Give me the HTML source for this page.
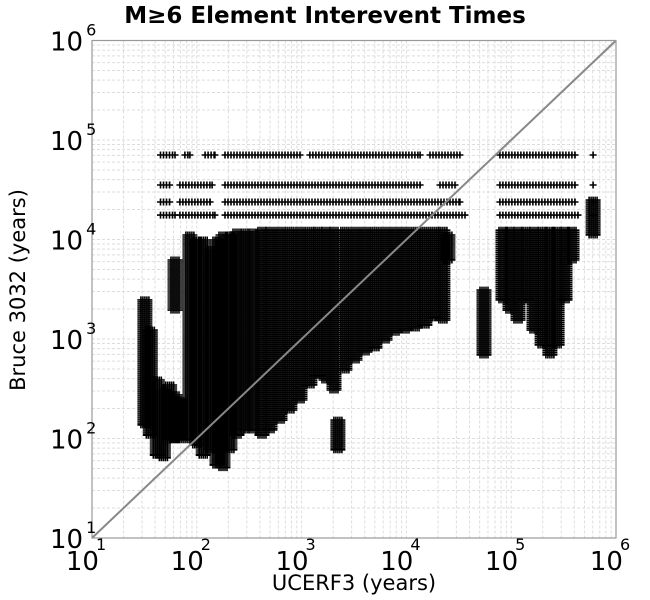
<!DOCTYPE html>
<html><head><meta charset="utf-8"><style>
body{margin:0;background:#fff;}
svg{display:block;font-family:"DejaVu Sans","Liberation Sans",sans-serif;}
</style></head><body>
<svg id="chart" width="650" height="600">
<text x="325" y="23" text-anchor="middle" font-size="23" font-weight="bold">M≥6 Element Interevent Times</text>
<g id="grid"></g>
<g id="marks"></g>
<rect x="92" y="40.5" width="524" height="497.5" fill="none" stroke="#999" stroke-width="1.2"/>
<g id="ticks"></g>
<text x="354" y="590" text-anchor="middle" font-size="21">UCERF3 (years)</text>
<text transform="translate(25,290) rotate(-90)" text-anchor="middle" font-size="21">Bruce 3032 (years)</text>
</svg>
<script>
const decades = [1,2,3,4,5,6];
const colX = [32,36,42,48,55,62,62,69,86,100,115,134,156,178,207,242,289,344,419,499,622,774,966,1200,1430,1710,2040,2220,2590,3230,4030,5010,6250,7780,9700,12100,15000,18700,22300,24900,55000,83500,97500,116000,138000,165000,197000,234000,274000,326000,380000,604000];
const colHigh = [2470,1230,387,307,345,6220,274,244,11100,9890,9890,7840,9890,11100,11100,11900,11900,11900,12400,12400,12400,12400,12400,12400,12400,12400,12400,153,12400,12400,12400,12400,12400,12400,12400,12400,12400,12400,12400,11100,3100,12400,12400,12400,12400,12400,12400,12400,12400,12400,12400,24900];
const colLow = [137,108,68,64,97,1950,97,97,97,86,68,77,54,51,77,108,122,122,108,122,153,193,244,345,434,387,307,77,488,615,740,813,977,1170,1230,1290,1380,1630,1550,6220,690,2470,1950,1550,2470,1230,871,690,871,2470,6220,11100];
const rowY = [70600,35300,23800,17600];
const segRow = [0,0,0,0,0,0,0,0, 1,1,1,1,1,1, 2,2,2,2,2, 3,3,3,3,3];
const segLo = [45,77,120,186,1200,16800,78000,604000, 45,69,186,20900,78000,604000, 45,69,186,78000,604000, 45,69,186,78000,604000];
const segHi = [62,86,149,966,13500,32400,406000,604000, 55,140,13500,29100,406000,604000, 55,134,32400,406000,604000, 62,149,36200,434000,604000];

const L=92,R=616,T=40.5,B=538;
function sx(v){return L+(Math.log10(v)-1)/5*(R-L);}
function sy(v){return B-(Math.log10(v)-1)/5*(B-T);}
const NS="http://www.w3.org/2000/svg";
const grid=document.getElementById('grid'), marks=document.getElementById('marks'), ticks=document.getElementById('ticks');
let gd="";
for(let d=1;d<6;d++){for(let m=1;m<10;m++){const v=m*Math.pow(10,d);
 gd+=`M${sx(v)} ${T}V${B}M${L} ${sy(v)}H${R}`;}}
const gp=document.createElementNS(NS,'path');
gp.setAttribute('d',gd);gp.setAttribute('stroke','#ddd');gp.setAttribute('stroke-width','1');gp.setAttribute('stroke-dasharray','3,2');gp.setAttribute('fill','none');


grid.appendChild(gp);

function plus(x,y){return `M${(x-3.5).toFixed(1)} ${y.toFixed(1)}h7M${x.toFixed(1)} ${(y-3.5).toFixed(1)}v7`;}
for(let i=0;i<colX.length;i++){
 const cx=sx(colX[i]), y0=sy(colHigh[i]), y1=sy(colLow[i]);
 let d="";
 for(let dx=-4;dx<=4;dx+=2){for(let y=y0;y<=y1+0.1;y+=2){d+=plus(cx+dx,y);} d+=plus(cx+dx,y1);}
 const p=document.createElementNS(NS,'path');
 p.setAttribute('d',d);p.setAttribute('stroke','#000');p.setAttribute('stroke-width','1.6');p.setAttribute('fill','none');
 
 
 marks.appendChild(p);
}
for(let i=0;i<segRow.length;i++){
 const y=sy(rowY[segRow[i]]), x0=sx(segLo[i]), x1=sx(segHi[i]);
 let d="";
 for(let x=x0;x<=x1+0.1;x+=3){d+=plus(x,y);} d+=plus(x1,y);
 const p=document.createElementNS(NS,'path');
 p.setAttribute('d',d);p.setAttribute('stroke','#000');p.setAttribute('stroke-width','1.6');p.setAttribute('fill','none');
 
 
 marks.appendChild(p);
}
const diag=document.createElementNS(NS,'line');
diag.setAttribute('x1',sx(10));diag.setAttribute('y1',sy(10));diag.setAttribute('x2',sx(1e6));diag.setAttribute('y2',sy(1e6));
diag.setAttribute('stroke','#888');diag.setAttribute('stroke-width','2');


marks.appendChild(diag);

decades.forEach(e=>{
 const v=Math.pow(10,e);
 const tx=document.createElementNS(NS,'text');
 tx.setAttribute('x',sx(v)-6);tx.setAttribute('y',570);tx.setAttribute('text-anchor','middle');tx.setAttribute('font-size','26');
 tx.innerHTML=`10<tspan dx="-3" dy="-20" font-size="16">${e}</tspan>`;
 
 
 ticks.appendChild(tx);
 const ty=document.createElementNS(NS,'text');
 ty.setAttribute('x',50);ty.setAttribute('y',sy(v)+10);ty.setAttribute('font-size','26');
 ty.innerHTML=`10<tspan dx="3" dy="-15" font-size="16">${e}</tspan>`;
 
 
 ticks.appendChild(ty);
});
</script>
</body></html>
